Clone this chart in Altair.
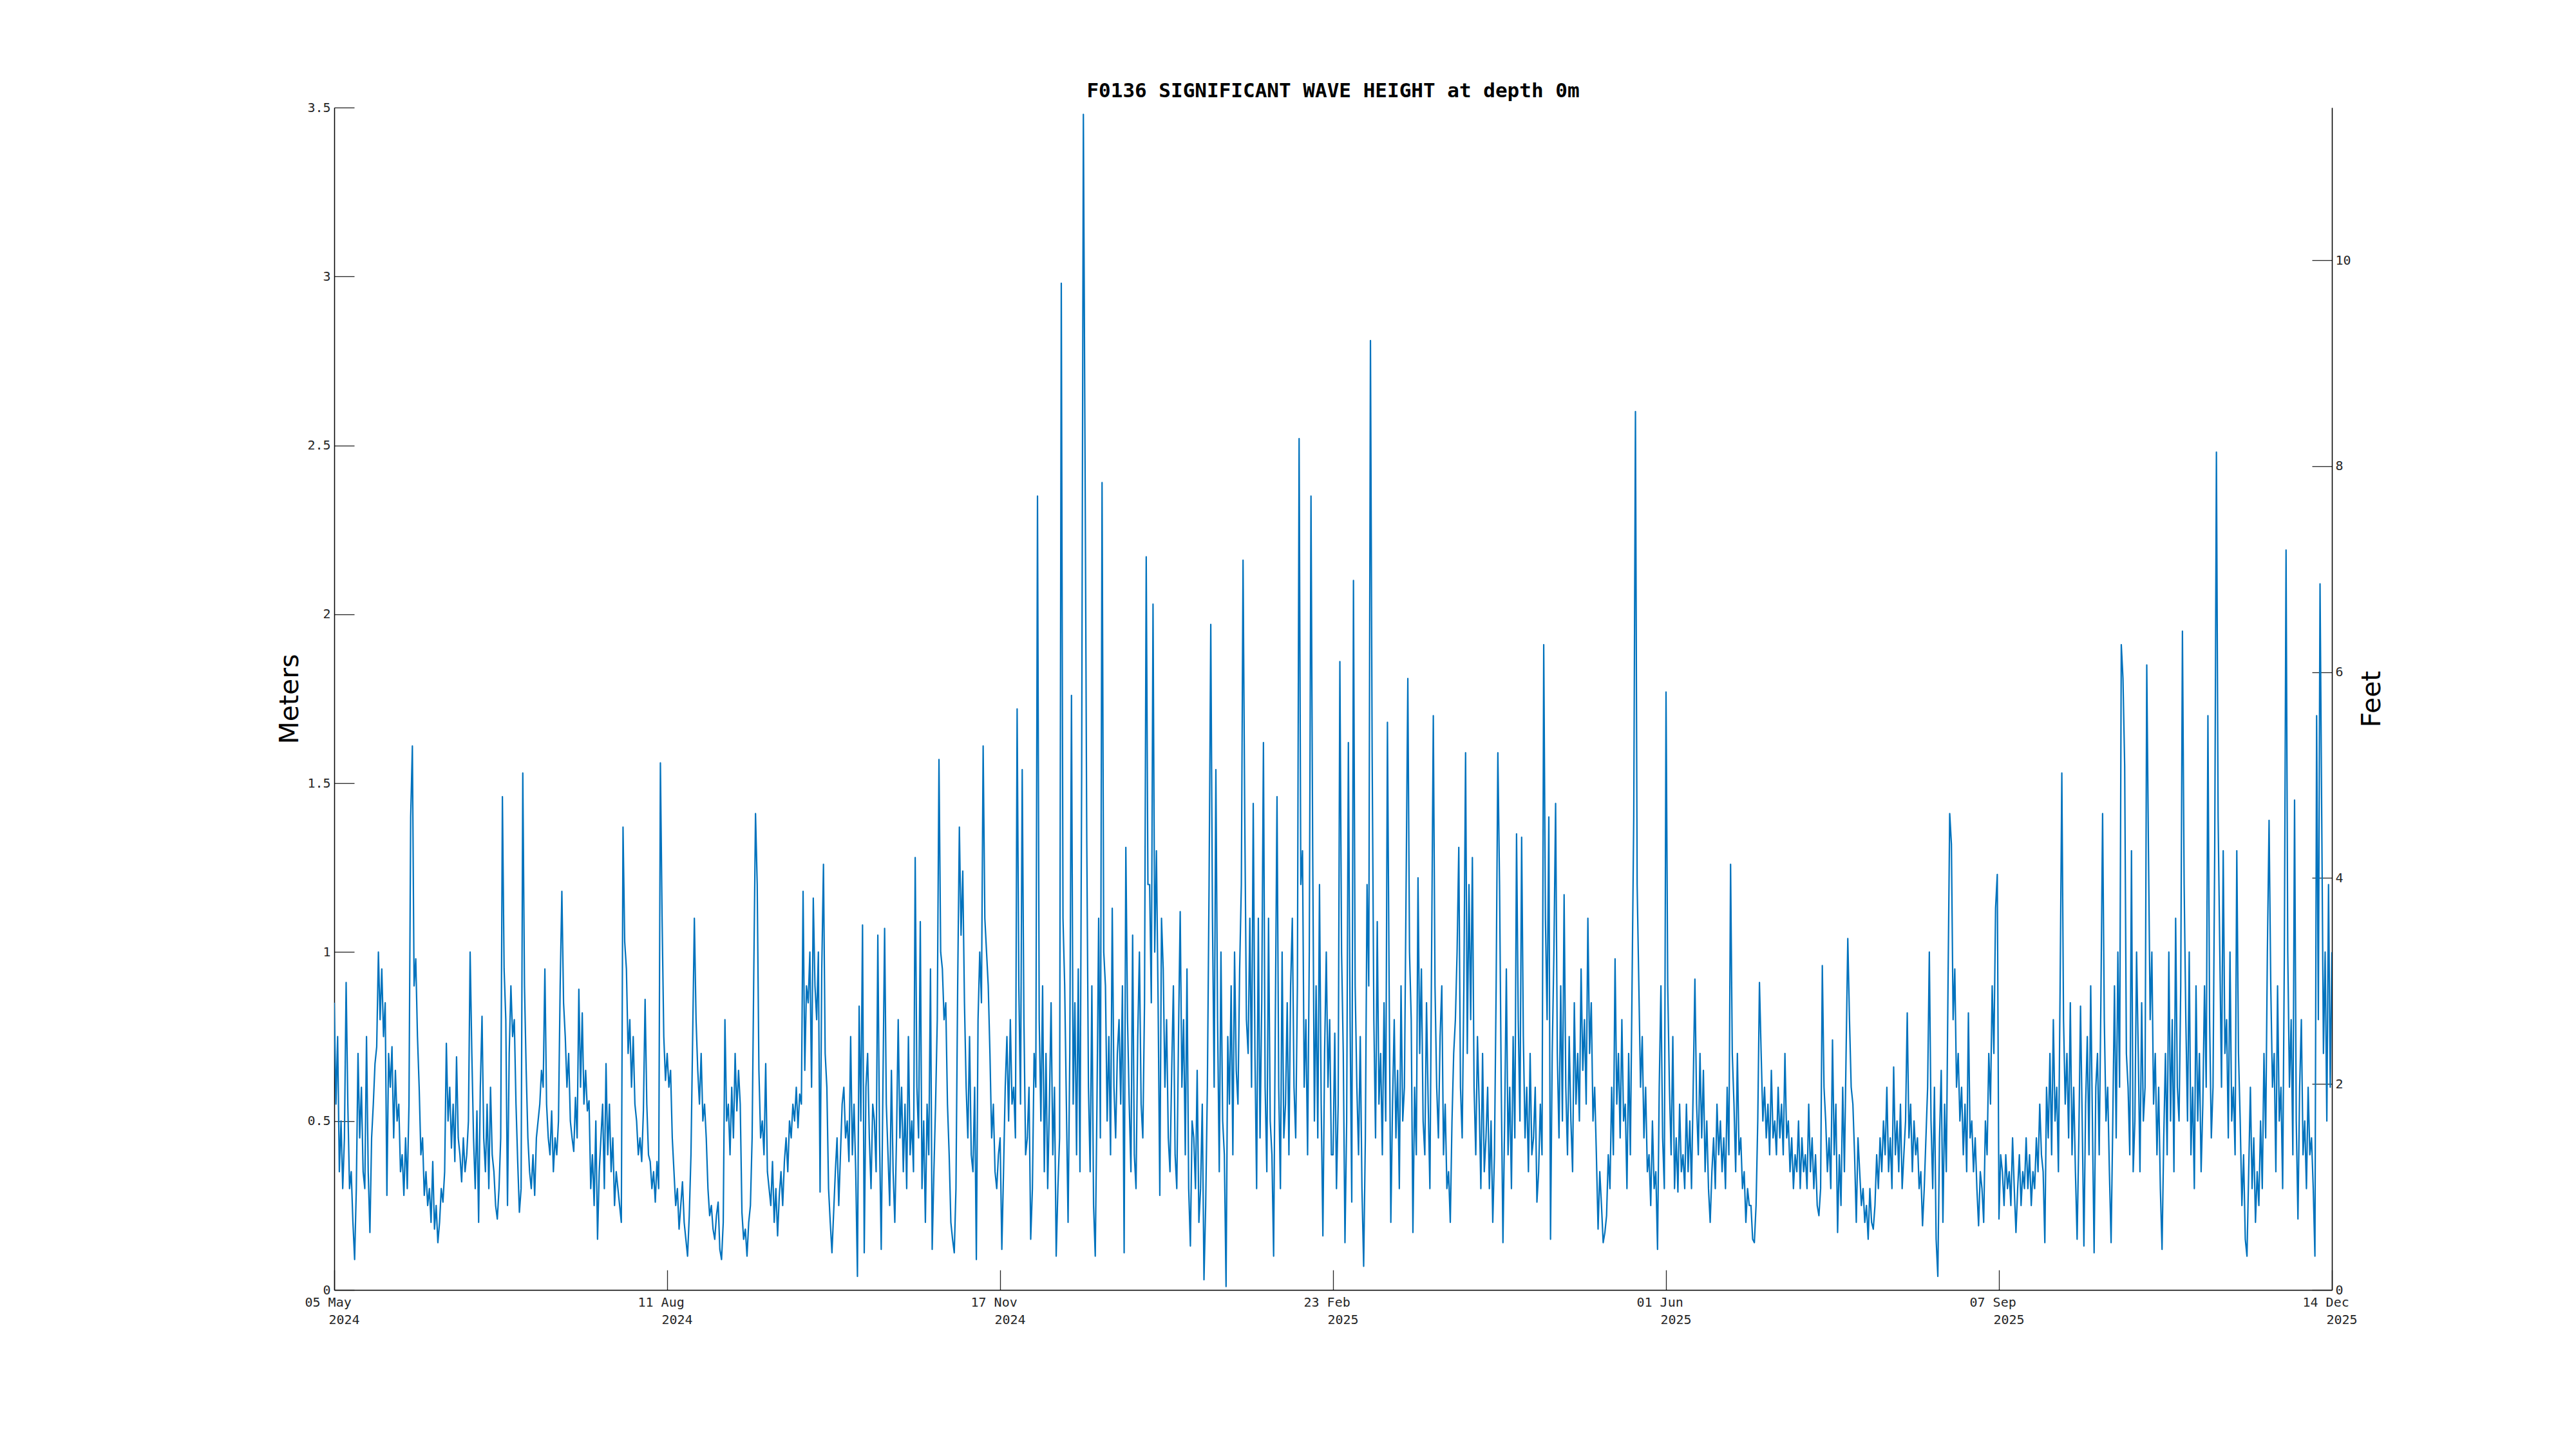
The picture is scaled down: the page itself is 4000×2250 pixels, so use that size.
import altair as alt
import pandas as pd

TITLE = "F0136 SIGNIFICANT WAVE HEIGHT at depth 0m"
START = "2024-05-05"
SEG_DAYS = 98            # each segment = one x-tick interval, 2 samples per day
TICK_DATES = ["2024-05-05", "2024-08-11", "2024-11-17", "2025-02-23",
              "2025-06-01", "2025-09-07", "2025-12-14"]
M_TICKS = [0, 0.5, 1, 1.5, 2, 2.5, 3, 3.5]
FT_TICKS = [0, 2, 4, 6, 8, 10]

# significant wave height (m), 12-hourly
seg1 = [  # 05 May 2024 - 10 Aug 2024
    0.85, 0.55, 0.75, 0.35, 0.50, 0.30, 0.45, 0.91, 0.55, 0.30,
    0.35, 0.20, 0.09, 0.30, 0.70, 0.45, 0.60, 0.35, 0.30, 0.75,
    0.35, 0.17, 0.45, 0.55, 0.67, 0.72, 1.00, 0.80, 0.95, 0.75,
    0.85, 0.28, 0.70, 0.60, 0.72, 0.45, 0.65, 0.50, 0.55, 0.35,
    0.40, 0.28, 0.45, 0.30, 0.55, 1.40, 1.61, 0.90, 0.98, 0.75,
    0.60, 0.40, 0.45, 0.28, 0.35, 0.25, 0.30, 0.20, 0.38, 0.18,
    0.25, 0.14, 0.20, 0.30, 0.26, 0.35, 0.73, 0.50, 0.60, 0.42,
    0.55, 0.38, 0.69, 0.45, 0.40, 0.32, 0.45, 0.35, 0.40, 0.50,
    1.00, 0.70, 0.45, 0.30, 0.53, 0.20, 0.60, 0.81, 0.45, 0.35,
    0.55, 0.30, 0.60, 0.40, 0.35, 0.25, 0.21, 0.30, 0.45, 1.46,
    0.95, 0.80, 0.25, 0.70, 0.90, 0.75, 0.80, 0.55, 0.38, 0.23,
    0.30, 1.53, 0.90, 0.65, 0.45, 0.35, 0.30, 0.40, 0.28, 0.45,
    0.50, 0.55, 0.65, 0.60, 0.95, 0.55, 0.45, 0.40, 0.53, 0.35,
    0.45, 0.40, 0.50, 0.90, 1.18, 0.85, 0.75, 0.60, 0.70, 0.50,
    0.45, 0.41, 0.57, 0.45, 0.89, 0.60, 0.82, 0.55, 0.65, 0.53,
    0.56, 0.30, 0.40, 0.25, 0.50, 0.15, 0.35, 0.45, 0.55, 0.30,
    0.67, 0.40, 0.55, 0.35, 0.45, 0.25, 0.35, 0.30, 0.25, 0.20,
    1.37, 1.03, 0.95, 0.70, 0.80, 0.60, 0.75, 0.55, 0.50, 0.40,
    0.45, 0.38, 0.53, 0.86, 0.55, 0.40, 0.38, 0.30, 0.35, 0.26,
    0.38, 0.30, 1.56, 1.10, 0.75, 0.62,
]
seg2 = [  # 11 Aug 2024 - 16 Nov 2024
    0.70, 0.60, 0.65, 0.45, 0.35, 0.25, 0.30, 0.18, 0.25, 0.32,
    0.20, 0.15, 0.10, 0.22, 0.40, 0.75, 1.10, 0.80, 0.65, 0.55,
    0.70, 0.50, 0.55, 0.45, 0.30, 0.22, 0.25, 0.18, 0.15, 0.22,
    0.26, 0.12, 0.09, 0.20, 0.80, 0.50, 0.55, 0.40, 0.60, 0.45,
    0.70, 0.53, 0.65, 0.55, 0.23, 0.15, 0.18, 0.10, 0.20, 0.25,
    0.45, 0.95, 1.41, 1.20, 0.65, 0.45, 0.50, 0.40, 0.67, 0.35,
    0.30, 0.25, 0.38, 0.20, 0.30, 0.16, 0.28, 0.35, 0.25, 0.38,
    0.45, 0.35, 0.50, 0.45, 0.55, 0.50, 0.60, 0.48, 0.58, 0.55,
    1.18, 0.65, 0.90, 0.85, 1.00, 0.60, 1.16, 0.90, 0.80, 1.00,
    0.29, 0.95, 1.26, 0.70, 0.60, 0.30, 0.20, 0.11, 0.23, 0.35,
    0.45, 0.25, 0.40, 0.55, 0.60, 0.45, 0.50, 0.38, 0.75, 0.40,
    0.55, 0.35, 0.04, 0.84, 0.50, 1.08, 0.11, 0.60, 0.70, 0.45,
    0.30, 0.55, 0.50, 0.35, 1.05, 0.45, 0.12, 0.60, 1.07, 0.55,
    0.40, 0.25, 0.65, 0.35, 0.20, 0.45, 0.80, 0.45, 0.60, 0.35,
    0.55, 0.30, 0.75, 0.40, 0.50, 0.35, 1.28, 0.60, 0.45, 1.09,
    0.30, 0.50, 0.20, 0.55, 0.40, 0.95, 0.12, 0.35, 0.55, 0.80,
    1.57, 1.00, 0.95, 0.80, 0.85, 0.55, 0.40, 0.20, 0.15, 0.11,
    0.30, 0.90, 1.37, 1.05, 1.24, 0.85, 0.60, 0.45, 0.75, 0.40,
    0.35, 0.60, 0.09, 0.80, 1.00, 0.85, 1.61, 1.10, 1.00, 0.90,
    0.70, 0.45, 0.55, 0.35, 0.30, 0.40,
]
seg3 = [  # 17 Nov 2024 - 22 Feb 2025
    0.45, 0.12, 0.35, 0.60, 0.75, 0.50, 0.80, 0.55, 0.60, 0.45,
    1.72, 0.90, 0.55, 1.54, 0.80, 0.40, 0.45, 0.60, 0.15, 0.30,
    0.70, 0.60, 2.35, 0.80, 0.50, 0.90, 0.35, 0.70, 0.30, 0.55,
    0.85, 0.40, 0.60, 0.10, 0.30, 0.45, 2.98, 1.10, 0.90, 0.55,
    0.20, 0.70, 1.76, 0.55, 0.85, 0.40, 0.95, 0.35, 1.53, 3.48,
    2.45, 1.33, 0.60, 0.35, 0.90, 0.25, 0.10, 0.55, 1.10, 0.45,
    2.39, 1.00, 0.90, 0.50, 0.75, 0.40, 1.13, 0.60, 0.45, 0.70,
    0.80, 0.55, 0.90, 0.11, 1.31, 0.80, 0.55, 0.35, 1.05, 0.40,
    0.30, 0.75, 1.00, 0.55, 0.45, 0.85, 2.17, 1.20, 1.20, 0.85,
    2.03, 1.00, 1.30, 0.85, 0.28, 1.10, 0.95, 0.60, 0.80, 0.45,
    0.35, 0.65, 0.90, 0.40, 0.30, 0.75, 1.12, 0.60, 0.80, 0.40,
    0.95, 0.30, 0.13, 0.50, 0.45, 0.30, 0.65, 0.20, 0.30, 0.55,
    0.03, 0.25, 0.60, 1.20, 1.97, 1.10, 0.60, 1.54, 0.80, 0.35,
    1.00, 0.50, 0.40, 0.01, 0.75, 0.55, 0.90, 0.40, 1.00, 0.65,
    0.55, 0.95, 1.20, 2.16, 1.40, 0.80, 0.70, 1.10, 0.60, 1.44,
    0.70, 0.30, 1.10, 0.45, 0.85, 1.62, 0.60, 0.35, 1.10, 0.50,
    0.40, 0.10, 0.80, 1.46, 0.60, 0.30, 1.00, 0.45, 0.55, 0.85,
    0.40, 0.90, 1.10, 0.60, 0.45, 0.90, 2.52, 1.20, 1.30, 0.60,
    0.80, 0.40, 1.00, 2.35, 1.30, 0.50, 0.90, 0.45, 1.20, 0.55,
    0.16, 0.70, 1.00, 0.60, 0.80, 0.40,
]
seg4 = [  # 23 Feb 2025 - 31 May 2025
    0.40, 0.76, 0.30, 0.55, 1.86, 1.00, 0.70, 0.14, 0.50, 1.62,
    0.80, 0.26, 2.10, 0.90, 0.60, 0.40, 0.75, 0.30, 0.07, 0.45,
    1.20, 0.90, 2.81, 1.59, 0.80, 0.45, 1.09, 0.55, 0.70, 0.40,
    0.85, 0.50, 1.68, 0.90, 0.20, 0.55, 0.80, 0.45, 0.65, 0.30,
    0.90, 0.50, 0.60, 1.20, 1.81, 1.00, 0.80, 0.17, 0.60, 0.40,
    1.22, 0.70, 0.95, 0.50, 0.40, 0.85, 0.55, 0.30, 1.00, 1.70,
    0.90, 0.60, 0.45, 0.75, 0.90, 0.40, 0.55, 0.30, 0.35, 0.20,
    0.50, 0.70, 0.80, 1.00, 1.31, 0.60, 0.45, 0.90, 1.59, 0.70,
    1.20, 0.80, 1.28, 0.60, 0.40, 0.75, 0.55, 0.30, 0.70, 0.35,
    0.45, 0.60, 0.30, 0.50, 0.20, 0.40, 0.90, 1.59, 1.20, 0.60,
    0.14, 0.50, 0.95, 0.40, 0.60, 0.30, 0.75, 0.45, 1.35, 0.80,
    0.50, 1.34, 0.75, 0.45, 0.60, 0.35, 0.70, 0.40, 0.45, 0.60,
    0.26, 0.35, 0.55, 0.40, 1.91, 1.10, 0.80, 1.40, 0.15, 0.70,
    1.00, 1.44, 0.70, 0.45, 0.90, 0.50, 1.17, 0.60, 0.40, 0.75,
    0.50, 0.35, 0.85, 0.55, 0.70, 0.50, 0.95, 0.65, 0.80, 0.55,
    1.10, 0.70, 0.85, 0.50, 0.60, 0.40, 0.18, 0.35, 0.25, 0.14,
    0.17, 0.22, 0.40, 0.30, 0.60, 0.40, 0.98, 0.55, 0.70, 0.45,
    0.80, 0.50, 0.55, 0.30, 0.70, 0.40, 0.90, 1.40, 2.60, 1.20,
    0.90, 0.60, 0.75, 0.45, 0.60, 0.35, 0.40, 0.25, 0.50, 0.30,
    0.35, 0.12, 0.60, 0.90, 0.45, 0.30,
]
seg5 = [  # 01 Jun 2025 - 06 Sep 2025
    1.77, 0.90, 0.60, 0.40, 0.75, 0.30, 0.45, 0.29, 0.55, 0.35,
    0.40, 0.30, 0.55, 0.35, 0.50, 0.30, 0.60, 0.92, 0.55, 0.40,
    0.70, 0.45, 0.65, 0.35, 0.50, 0.30, 0.20, 0.35, 0.45, 0.30,
    0.55, 0.40, 0.50, 0.35, 0.45, 0.30, 0.60, 0.40, 1.26, 0.70,
    0.55, 0.35, 0.70, 0.40, 0.45, 0.30, 0.35, 0.20, 0.30, 0.25,
    0.25, 0.15, 0.14, 0.25, 0.50, 0.91, 0.70, 0.50, 0.60, 0.45,
    0.55, 0.40, 0.65, 0.45, 0.50, 0.40, 0.60, 0.45, 0.55, 0.40,
    0.70, 0.45, 0.50, 0.35, 0.45, 0.30, 0.40, 0.35, 0.50, 0.30,
    0.45, 0.35, 0.40, 0.30, 0.55, 0.35, 0.45, 0.30, 0.40, 0.25,
    0.22, 0.30, 0.96, 0.60, 0.50, 0.35, 0.45, 0.30, 0.74, 0.40,
    0.55, 0.17, 0.40, 0.25, 0.60, 0.35, 0.70, 1.04, 0.80, 0.60,
    0.55, 0.40, 0.20, 0.45, 0.35, 0.25, 0.30, 0.20, 0.25, 0.15,
    0.30, 0.20, 0.18, 0.25, 0.40, 0.30, 0.45, 0.35, 0.50, 0.40,
    0.60, 0.35, 0.45, 0.30, 0.66, 0.40, 0.50, 0.35, 0.55, 0.30,
    0.40, 0.50, 0.82, 0.45, 0.55, 0.35, 0.50, 0.40, 0.45, 0.30,
    0.35, 0.19, 0.30, 0.45, 0.60, 1.00, 0.50, 0.30, 0.60, 0.15,
    0.04, 0.45, 0.65, 0.20, 0.55, 0.35, 0.90, 1.41, 1.32, 0.80,
    0.95, 0.60, 0.70, 0.50, 0.60, 0.40, 0.55, 0.35, 0.82, 0.45,
    0.50, 0.35, 0.45, 0.30, 0.19, 0.35, 0.30, 0.20, 0.50, 0.40,
    0.70, 0.55, 0.90, 0.70, 1.13, 1.23,
]
seg6 = [  # 07 Sep 2025 - 13 Dec 2025
    0.21, 0.40, 0.35, 0.25, 0.40, 0.30, 0.35, 0.25, 0.45, 0.30,
    0.17, 0.30, 0.40, 0.25, 0.35, 0.30, 0.45, 0.30, 0.40, 0.25,
    0.35, 0.30, 0.45, 0.35, 0.55, 0.40, 0.35, 0.14, 0.60, 0.45,
    0.70, 0.40, 0.80, 0.50, 0.60, 0.35, 0.90, 1.53, 0.80, 0.55,
    0.70, 0.45, 0.85, 0.40, 0.60, 0.35, 0.15, 0.45, 0.84, 0.50,
    0.13, 0.55, 0.75, 0.40, 0.90, 0.50, 0.11, 0.60, 0.70, 0.40,
    0.86, 1.41, 0.80, 0.50, 0.60, 0.35, 0.14, 0.50, 0.90, 0.45,
    1.00, 0.60, 1.91, 1.81, 1.55, 0.70, 0.60, 0.40, 1.30, 0.35,
    0.50, 1.00, 0.70, 0.35, 0.85, 0.50, 0.60, 1.85, 1.30, 0.80,
    1.00, 0.55, 0.70, 0.40, 0.60, 0.30, 0.12, 0.45, 0.70, 0.40,
    1.00, 0.50, 0.80, 0.35, 1.10, 0.60, 0.50, 0.90, 1.95, 1.20,
    0.80, 0.50, 1.00, 0.40, 0.60, 0.30, 0.90, 0.50, 0.70, 0.35,
    0.55, 0.90, 0.60, 1.70, 0.80, 0.45, 0.60, 1.30, 2.48, 1.40,
    1.00, 0.60, 1.30, 0.70, 0.80, 0.45, 1.00, 0.50, 0.60, 0.40,
    1.30, 0.70, 0.50, 0.25, 0.40, 0.15, 0.10, 0.35, 0.60, 0.30,
    0.45, 0.20, 0.35, 0.25, 0.50, 0.30, 0.70, 0.45, 1.00, 1.39,
    0.90, 0.60, 0.70, 0.35, 0.90, 0.50, 0.60, 0.30, 1.00, 2.19,
    1.00, 0.60, 0.80, 0.40, 1.45, 0.50, 0.21, 0.60, 0.80, 0.40,
    0.50, 0.30, 0.60, 0.40, 0.45, 0.30, 0.10, 1.70, 0.80, 2.09,
    1.40, 0.70, 1.00, 0.50, 1.20, 0.60,
]
last_value = 1.00  # 14 Dec 2025

segments = [seg1, seg2, seg3, seg4, seg5, seg6]
start = pd.Timestamp(START)
times, vals = [], []
for k, seg in enumerate(segments):
    for i, v in enumerate(seg):
        t = start + pd.Timedelta(days=SEG_DAYS * k) + pd.Timedelta(hours=12 * i)
        times.append(t.strftime("%Y-%m-%dT%H:%M:%SZ"))
        vals.append(v)
times.append(pd.Timestamp(TICK_DATES[-1]).strftime("%Y-%m-%dT%H:%M:%SZ"))
vals.append(last_value)
df = pd.DataFrame({"t": times, "m": vals})

def ms(d):
    return int(pd.Timestamp(d, tz="UTC").timestamp() * 1000)

tick_ms = [ms(d) for d in TICK_DATES]
MONO = "DejaVu Sans Mono"
TXT = "#262626"
H = 1836
TICK = 31
Y_TICK_DASH = [TICK, 5000]
X_TICK_DASH = [0, H - TICK, TICK, 5000]
x_scale = alt.Scale(type="utc", domain=[tick_ms[0], tick_ms[-1]])

# first label line (day + month) with the inward tick marks
x_day = alt.X(
    "t:T", scale=x_scale,
    axis=alt.Axis(
        orient="bottom", values=tick_ms, title=None, ticks=False,
        labelExpr="utcFormat(datum.value, '%d %b')",
        labelFont=MONO, labelFontSize=20, labelColor=TXT,
        labelAlign="left", labelOffset=-46, labelBaseline="top", labelPadding=9,
        labelFlush=False, labelOverlap=False, labelBound=False,
        grid=True, gridDash=X_TICK_DASH, gridColor=TXT, gridWidth=1.3, gridOpacity=1,
        domainColor="#000000", domainWidth=1.5,
    ),
)
# second label line (year), set under the month
x_year = alt.X(
    "t:T", scale=x_scale,
    axis=alt.Axis(
        orient="bottom", values=tick_ms, title=None, ticks=False, grid=False,
        domain=False,
        labelExpr="utcFormat(datum.value, '%Y')",
        labelFont=MONO, labelFontSize=20, labelColor=TXT,
        labelAlign="left", labelOffset=-9, labelBaseline="top", labelPadding=36,
        labelFlush=False, labelOverlap=False, labelBound=False,
    ),
)

line = alt.Chart(df).mark_line(
    color="#0072BD", strokeWidth=2.2, strokeJoin="round", clip=True
).encode(
    x=x_day,
    y=alt.Y(
        "m:Q",
        scale=alt.Scale(domain=[0, 3.5], nice=False, zero=True),
        axis=alt.Axis(
            values=M_TICKS, format="~g", ticks=False,
            labelFont=MONO, labelFontSize=20, labelColor=TXT, labelPadding=6,
            labelBaseline="middle",
            grid=True, gridDash=Y_TICK_DASH, gridColor=TXT, gridWidth=1.3, gridOpacity=1,
            domainColor="#000000", domainWidth=1.5,
            title="Meters", titleFont="DejaVu Sans", titleFontSize=41,
            titleFontWeight="normal", titleColor="#000000", titleAngle=270,
            titleX=-57, titleY=918, titleBaseline="alphabetic", titleAlign="center",
        ),
    ),
)

feet = alt.Chart(df).transform_calculate(
    ft="datum.m * 3.28084"
).mark_line(strokeOpacity=0).encode(
    x=x_year,
    y=alt.Y(
        "ft:Q",
        scale=alt.Scale(domain=[0, 3.5 * 3.28084], nice=False, zero=True),
        axis=alt.Axis(
            orient="right", values=FT_TICKS, format="d", ticks=False,
            labelFont=MONO, labelFontSize=20, labelColor=TXT, labelPadding=5,
            labelBaseline="middle",
            grid=True, gridDash=Y_TICK_DASH, gridColor=TXT, gridWidth=1.3, gridOpacity=1,
            domainColor="#000000", domainWidth=1.5,
            title="Feet", titleFont="DejaVu Sans", titleFontSize=41,
            titleFontWeight="normal", titleColor="#000000", titleAngle=270,
            titleX=74, titleY=918, titleBaseline="alphabetic", titleAlign="center",
        ),
    ),
)

chart = alt.layer(line, feet).resolve_scale(y="independent").resolve_axis(
    x="independent"
).properties(
    width=3102,
    height=H,
    background="white",
    title=alt.TitleParams(
        TITLE, font=MONO, fontSize=31, fontWeight="bold", color="#000000",
        anchor="middle", baseline="alphabetic", offset=-25, frame="group",
    ),
    padding={"left": 511, "top": 159, "right": 100, "bottom": 100},
    autosize=alt.AutoSizeParams(type="none"),
).configure_view(stroke="transparent", strokeWidth=0)

chart.save("out.html", embed_options={"renderer": "svg", "actions": False})
